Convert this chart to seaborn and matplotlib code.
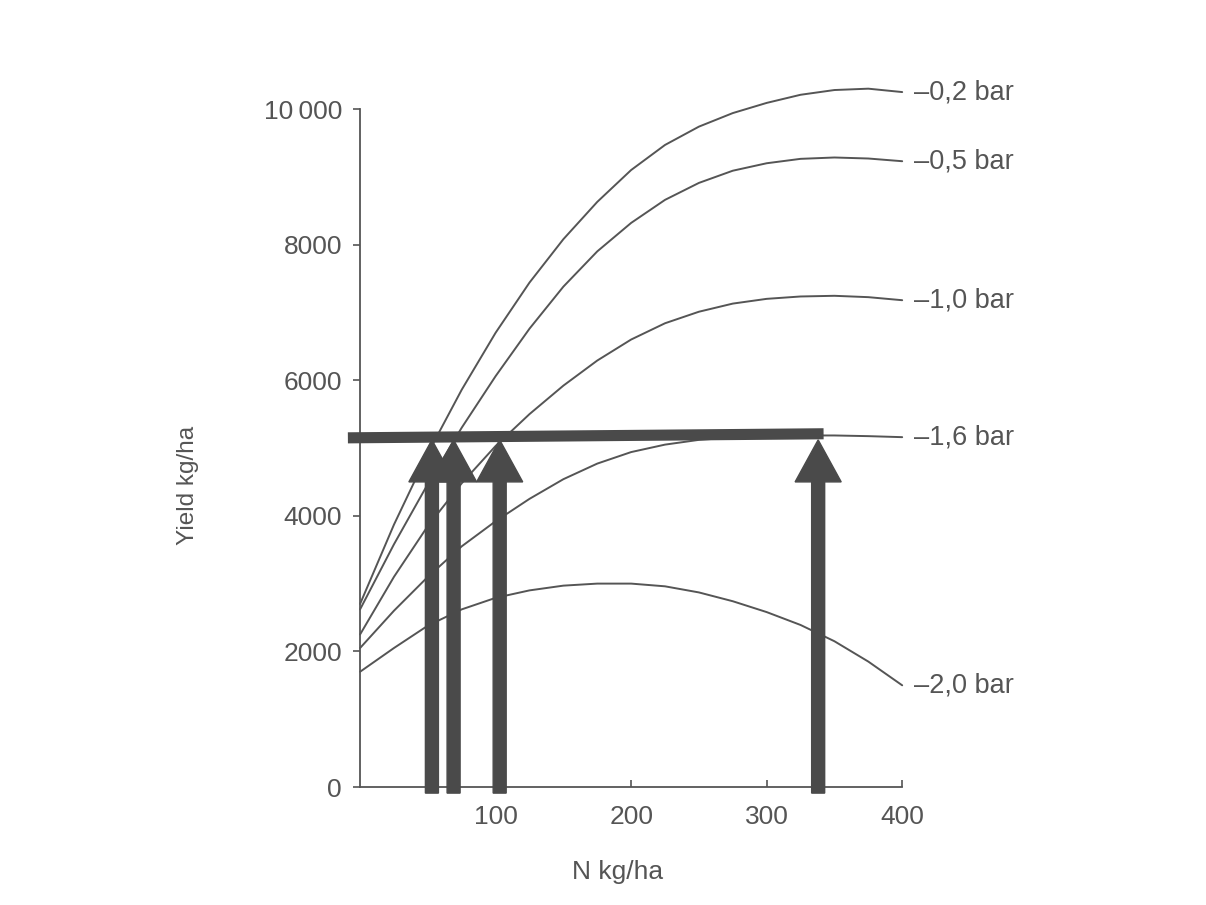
import pandas as pd
import matplotlib.pyplot as plt
import seaborn as sns

# N rate (kg/ha) and yield (kg/ha) for each soil water tension
n_rate = [0, 25, 50, 75, 100, 125, 150, 175, 200, 225, 250, 275, 300, 325, 350, 375, 400]
yield_02 = [2700, 3870, 4920, 5860, 6700, 7440, 8080, 8630, 9100, 9470, 9740, 9940, 10090, 10210, 10280, 10300, 10250]
yield_05 = [2620, 3580, 4470, 5300, 6060, 6760, 7380, 7900, 8320, 8660, 8910, 9090, 9200, 9265, 9285, 9270, 9230]
yield_10 = [2250, 3100, 3850, 4480, 5030, 5500, 5920, 6290, 6600, 6840, 7010, 7130, 7200, 7235, 7245, 7225, 7180]
yield_16 = [2050, 2600, 3100, 3550, 3920, 4250, 4540, 4770, 4940, 5050, 5120, 5155, 5175, 5185, 5185, 5175, 5160]
yield_20 = [1700, 2050, 2380, 2620, 2790, 2900, 2970, 3000, 3000, 2960, 2870, 2740, 2580, 2390, 2150, 1850, 1500]
curve_labels = ["\u20130,2 bar", "\u20130,5 bar", "\u20131,0 bar", "\u20131,6 bar", "\u20132,0 bar"]

# overlay: horizontal target line and the arrows pointing at the crossings
target_n = [-9, 342]
target_yield = [5150, 5210]
arrow_n = [53, 69, 103, 338]
arrow_bottom = -90
arrow_tip = 5120

yticks = [0, 2000, 4000, 6000, 8000, 10000]
ytick_labels = ["0", "2000", "4000", "6000", "8000", "10\u2009000"]
xticks = [100, 200, 300, 400]

series = [yield_02, yield_05, yield_10, yield_16, yield_20]
df = pd.concat([pd.DataFrame({"N": n_rate, "Yield": y, "curve": lab})
                for y, lab in zip(series, curve_labels)])

sns.set_theme(style="white")
plt.rcParams["font.family"] = ["Liberation Sans", "DejaVu Sans"]

ink = "#555555"
fig = plt.figure(figsize=(12.06, 9.05), dpi=100)
ax = fig.add_axes([0.2761, 0.1154, 0.4776, 0.8016])

sns.lineplot(data=df, x="N", y="Yield", hue="curve", palette=[ink] * 5,
             legend=False, lw=1.4, ax=ax, clip_on=False)

for y, lab in zip(series, curve_labels):
    ax.text(409, y[-1], lab, ha="left", va="center", fontsize=19.5, color=ink)

# overlay in dark grey
dark = "#4a4a4a"
ax.plot(target_n, target_yield, color=dark, lw=8, solid_capstyle="butt", zorder=5)
for n in arrow_n:
    ax.arrow(n, arrow_bottom, 0, arrow_tip - arrow_bottom, width=9.6,
             head_width=34, head_length=620, length_includes_head=True,
             color=dark, zorder=6)

ax.set_xlim(-20, 405)
ax.set_ylim(-200, 10500)
ax.set_xticks(xticks)
ax.set_yticks(yticks)
ax.set_yticklabels(ytick_labels)

for side in ["top", "right"]:
    ax.spines[side].set_visible(False)
ax.spines["left"].set_position(("data", 0))
ax.spines["bottom"].set_position(("data", 0))
ax.spines["left"].set_bounds(0, 10000)
ax.spines["bottom"].set_bounds(0, 400)
for side in ["left", "bottom"]:
    ax.spines[side].set_color(ink)
    ax.spines[side].set_linewidth(1.3)

ax.tick_params(axis="x", direction="in", length=5, width=1.2, pad=13,
               labelsize=19, colors=ink, bottom=True)
ax.tick_params(axis="y", direction="out", length=5, width=1.2, pad=8,
               labelsize=19, colors=ink, left=True)

ax.set_xlabel("N kg/ha", fontsize=19, color=ink, va="center")
ax.set_ylabel("Yield kg/ha", fontsize=17.5, color=ink, va="center")
ax.xaxis.set_label_coords(190, -1254, transform=ax.transData)
ax.yaxis.set_label_coords(-127, 4455, transform=ax.transData)

fig.savefig("out.png", dpi=100)
